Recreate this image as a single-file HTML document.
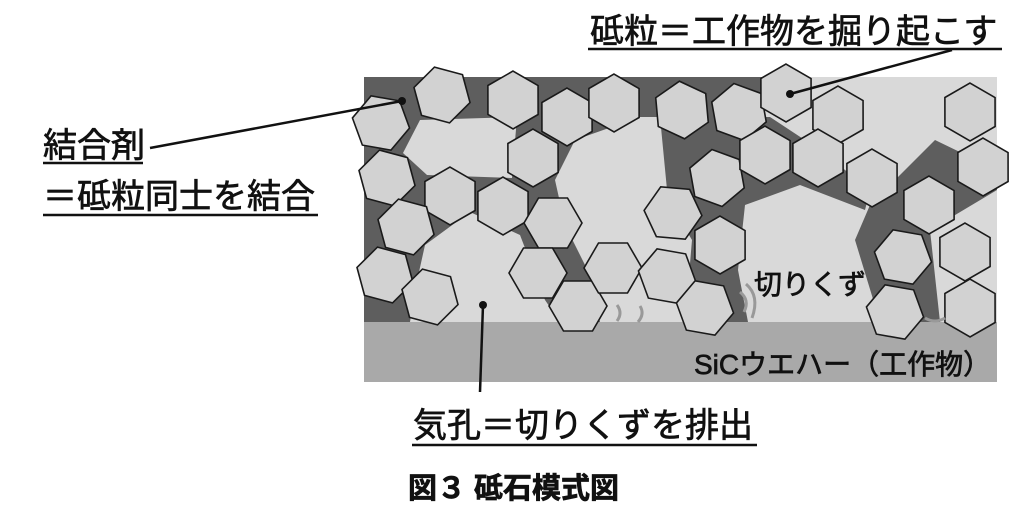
<!DOCTYPE html>
<html><head><meta charset="utf-8"><style>
html,body{margin:0;padding:0;background:#fff;}
svg{display:block}
text{font-family:"Liberation Sans","Noto Sans CJK JP",sans-serif;fill:#111;stroke:#111;stroke-width:0.7;}
</style></head><body>
<svg width="1024" height="511" viewBox="0 0 1024 511" xmlns="http://www.w3.org/2000/svg">
<defs>
<polygon id="h" points="29,0 14.5,25 -14.5,25 -29,0 -14.5,-25 14.5,-25" fill="#d2d2d2" stroke="#1a1a1a" stroke-width="1.6"/>
</defs>
<rect x="364" y="77" width="633" height="245" fill="#5e5e5e"/>
<rect x="364" y="322" width="633" height="60" fill="#a9a9a9"/>
<g fill="#d9d9d9">
<polygon points="403,153 420,120 517,117 512,178 427,175"/>
<polygon points="425,245 470,212 520,235 545,300 560,322 410,322 415,290"/>
<polygon points="555,180 575,140 640,117 760,117 780,77 997,77 997,170 935,140 900,175 870,205 855,240 880,322 600,322 590,275 565,225"/>
<polygon points="700,240 740,215 760,250 760,322 700,322"/>
<polygon points="930,230 997,190 997,322 940,322"/>
</g>
<g fill="#5e5e5e">
<polygon points="660,117 770,117 820,150 870,190 865,210 800,185 745,205 738,270 748,322 685,322 692,240 668,200"/>
</g>
<g>
<use href="#h" transform="translate(381,123) rotate(10)"/>
<use href="#h" transform="translate(442,95) rotate(15)"/>
<use href="#h" transform="translate(513,100) rotate(30)"/>
<use href="#h" transform="translate(567,117) rotate(30)"/>
<use href="#h" transform="translate(614,103) rotate(30)"/>
<use href="#h" transform="translate(682,110) rotate(25)"/>
<use href="#h" transform="translate(533,158) rotate(30)"/>
<use href="#h" transform="translate(387,178) rotate(15)"/>
<use href="#h" transform="translate(450,196) rotate(30)"/>
<use href="#h" transform="translate(503,206) rotate(30)"/>
<use href="#h" transform="translate(406,227) rotate(15)"/>
<use href="#h" transform="translate(553,223) rotate(0)"/>
<use href="#h" transform="translate(673,213) rotate(5)"/>
<use href="#h" transform="translate(385,275) rotate(15)"/>
<use href="#h" transform="translate(430,297) rotate(15)"/>
<use href="#h" transform="translate(538,273) rotate(0)"/>
<use href="#h" transform="translate(578,306) rotate(0)"/>
<use href="#h" transform="translate(613,268) rotate(0)"/>
<use href="#h" transform="translate(667,276) rotate(10)"/>
<use href="#h" transform="translate(739,112) rotate(20)"/>
<use href="#h" transform="translate(838,115) rotate(30)"/>
<use href="#h" transform="translate(970,112) rotate(30)"/>
<use href="#h" transform="translate(717,178) rotate(20)"/>
<use href="#h" transform="translate(765,155) rotate(30)"/>
<use href="#h" transform="translate(818,158) rotate(30)"/>
<use href="#h" transform="translate(872,178) rotate(30)"/>
<use href="#h" transform="translate(983,167) rotate(30)"/>
<use href="#h" transform="translate(929,205) rotate(30)"/>
<use href="#h" transform="translate(720,245) rotate(30)"/>
<use href="#h" transform="translate(903,257) rotate(10)"/>
<use href="#h" transform="translate(965,252) rotate(30)"/>
<use href="#h" transform="translate(705,308) rotate(10)"/>
<use href="#h" transform="translate(895,312) rotate(10)"/>
<use href="#h" transform="translate(970,308) rotate(30)"/>
<use href="#h" transform="translate(786,93) rotate(30)"/>
</g>
<g fill="none" stroke="#999" stroke-width="3">
<path d="M740,292 q10,8 4,20"/><path d="M746,284 q14,12 6,34"/><path d="M617,305 q6,8 0,16"/><path d="M640,306 q5,8 -2,16"/><path d="M925,318 q10,6 20,0"/>
</g>
<text x="754" y="294" font-size="28">切りくず</text>
<text x="694" y="374" font-size="28">SiCウエハー（工作物）</text>
<g stroke="#111" stroke-width="2.5" fill="none">
<line x1="150" y1="148" x2="402" y2="101"/>
<line x1="952" y1="50" x2="790" y2="94"/>
<line x1="483" y1="305" x2="480" y2="392"/>
<line x1="43" y1="163" x2="143" y2="163"/>
<line x1="43" y1="215" x2="318" y2="215"/>
<line x1="588" y1="49" x2="1002" y2="49"/>
<line x1="412" y1="445" x2="757" y2="445"/>
</g>
<g fill="#111"><circle cx="402" cy="101" r="4"/><circle cx="790" cy="94" r="4"/><circle cx="483" cy="305" r="4"/></g>
<g font-size="34" style="stroke-width:1">
<text x="43" y="157">結合剤</text>
<text x="43" y="208">＝砥粒同士を結合</text>
<text x="590" y="43">砥粒＝工作物を掘り起こす</text>
<text x="413" y="437">気孔＝切りくずを排出</text>
</g>
<text x="408" y="498" font-size="29" font-weight="bold">図３ 砥石模式図</text>
</svg>
</body></html>
